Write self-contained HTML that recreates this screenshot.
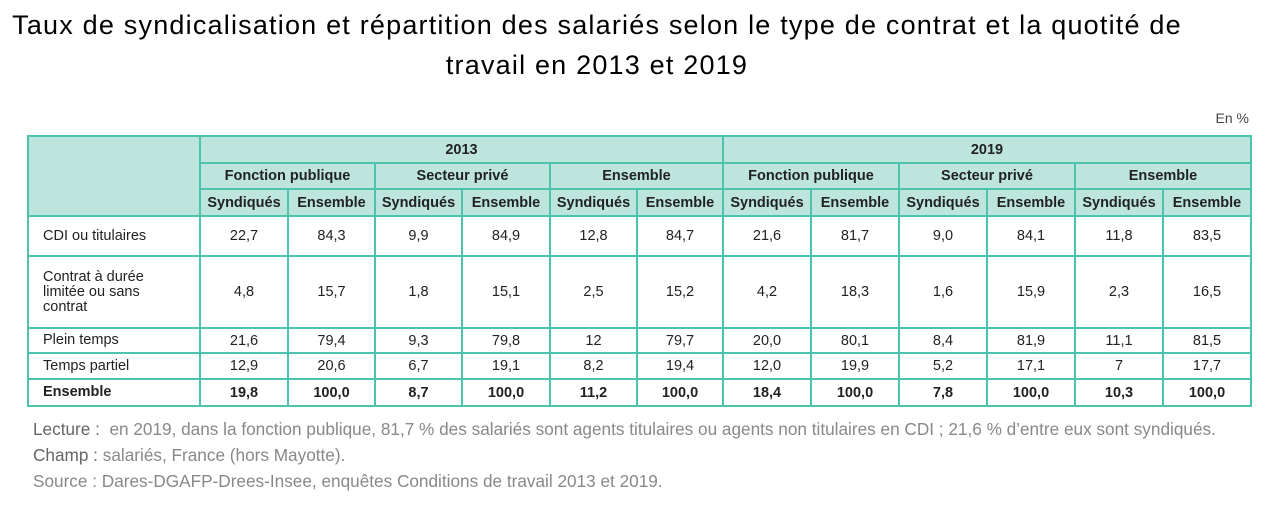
<!DOCTYPE html>
<html><head><meta charset="utf-8"><style>
body{margin:0;width:1273px;height:523px;background:#fff;position:relative;overflow:hidden;font-family:"Liberation Sans",sans-serif;}
.title{position:absolute;left:0;width:1194px;text-align:center;font-size:27px;color:#000;white-space:nowrap;letter-spacing:1.2px;}
.unit{position:absolute;left:1200px;top:110px;width:49px;text-align:right;font-size:14px;color:#444;}
table{position:absolute;left:27px;top:135px;border-collapse:collapse;table-layout:fixed;font-size:14.5px;color:#222;}
td{border:2px solid #4cc3ad;padding:0;text-align:center;overflow:hidden;white-space:nowrap;}
.h td,td.h{background:#bde5de;font-weight:bold;}
td.l{text-align:left;padding-left:14px;padding-right:36px;white-space:normal;line-height:15px;}
tr.b td{font-weight:bold;}
.foot{position:absolute;left:33px;font-size:17.2px;color:#888;white-space:nowrap;}
.foot b{font-weight:normal;color:#666;}
</style></head><body>
<div class="title" style="top:10px">Taux de syndicalisation et répartition des salariés selon le type de contrat et la quotité de</div>
<div class="title" style="top:50px">travail en 2013 et 2019</div>
<div class="unit">En %</div>
<table>
<colgroup><col style="width:172px"><col style="width:88px"><col style="width:87px"><col style="width:87px"><col style="width:88px"><col style="width:87px"><col style="width:86px"><col style="width:88px"><col style="width:88px"><col style="width:88px"><col style="width:88px"><col style="width:88px"><col style="width:88px"></colgroup>
<tr class="h" style="height:27px"><td rowspan="3"></td><td colspan="6">2013</td><td colspan="6">2019</td></tr>
<tr class="h" style="height:26px"><td colspan="2">Fonction publique</td><td colspan="2">Secteur privé</td><td colspan="2">Ensemble</td><td colspan="2">Fonction publique</td><td colspan="2">Secteur privé</td><td colspan="2">Ensemble</td></tr>
<tr class="h" style="height:27px"><td>Syndiqués</td><td>Ensemble</td><td>Syndiqués</td><td>Ensemble</td><td>Syndiqués</td><td>Ensemble</td><td>Syndiqués</td><td>Ensemble</td><td>Syndiqués</td><td>Ensemble</td><td>Syndiqués</td><td>Ensemble</td></tr>
<tr style="height:40px"><td class="l">CDI ou titulaires</td><td>22,7</td><td>84,3</td><td>9,9</td><td>84,9</td><td>12,8</td><td>84,7</td><td>21,6</td><td>81,7</td><td>9,0</td><td>84,1</td><td>11,8</td><td>83,5</td></tr>
<tr style="height:72px"><td class="l">Contrat à durée limitée ou sans contrat</td><td>4,8</td><td>15,7</td><td>1,8</td><td>15,1</td><td>2,5</td><td>15,2</td><td>4,2</td><td>18,3</td><td>1,6</td><td>15,9</td><td>2,3</td><td>16,5</td></tr>
<tr style="height:25px"><td class="l">Plein temps</td><td>21,6</td><td>79,4</td><td>9,3</td><td>79,8</td><td>12</td><td>79,7</td><td>20,0</td><td>80,1</td><td>8,4</td><td>81,9</td><td>11,1</td><td>81,5</td></tr>
<tr style="height:26px"><td class="l">Temps partiel</td><td>12,9</td><td>20,6</td><td>6,7</td><td>19,1</td><td>8,2</td><td>19,4</td><td>12,0</td><td>19,9</td><td>5,2</td><td>17,1</td><td>7</td><td>17,7</td></tr>
<tr class="b" style="height:27px"><td class="l">Ensemble</td><td>19,8</td><td>100,0</td><td>8,7</td><td>100,0</td><td>11,2</td><td>100,0</td><td>18,4</td><td>100,0</td><td>7,8</td><td>100,0</td><td>10,3</td><td>100,0</td></tr>
</table>
<div class="foot" style="top:419px"><b>Lecture :</b>&nbsp; en 2019, dans la fonction publique, 81,7 % des salariés sont agents titulaires ou agents non titulaires en CDI ; 21,6 % d’entre eux sont syndiqués.</div>
<div class="foot" style="top:445px"><b>Champ :</b> salariés, France (hors Mayotte).</div>
<div class="foot" style="top:471px">Source : Dares-DGAFP-Drees-Insee, enquêtes Conditions de travail 2013 et 2019.</div>
</body></html>
